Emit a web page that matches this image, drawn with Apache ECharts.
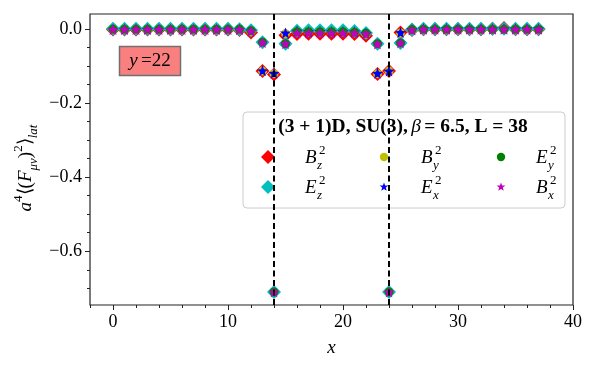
<!DOCTYPE html>
<html>
<head>
<meta charset="utf-8">
<script src="https://cdn.jsdelivr.net/npm/echarts@6/dist/echarts.min.js"></script>
<style>
  html, body { margin: 0; padding: 0; background: #fff; }
  #chart { width: 600px; height: 370px; }
</style>
</head>
<body>
<div id="chart"></div>
<script>
// lattice sites along x (y = 22 slice)
const xs = [0, 1, 2, 3, 4, 5, 6, 7, 8, 9, 10, 11, 12, 13, 14, 15, 16, 17, 18,
  19, 20, 21, 22, 23, 24, 25, 26, 27, 28, 29, 30, 31, 32, 33, 34, 35, 36, 37];

// field components
const Bz = [-0.002, -0.002, -0.002, -0.002, -0.002, -0.002, -0.002, -0.002, -0.002, -0.002, -0.002,
  -0.003, -0.010, -0.114, -0.123, -0.017, -0.014, -0.013, -0.013, -0.013, -0.013, -0.014, -0.019,
  -0.122, -0.114, -0.010, -0.003,
  -0.001, -0.001, -0.001, -0.001, -0.001, -0.001, 0.000, 0.002, -0.001, -0.001, -0.001];
const Ez = [0.000, 0.000, 0.000, 0.000, 0.000, 0.000, 0.000, 0.000, 0.000, 0.000, 0.000,
  -0.001, -0.004, -0.036, -0.710, -0.040, -0.005, -0.004, -0.004, -0.004, -0.004, -0.006, -0.011,
  -0.040, -0.710, -0.038, -0.002,
  0.000, 0.000, 0.000, 0.000, 0.000, 0.000, 0.000, 0.000, 0.000, 0.000, 0.000];
const By = [-0.001, -0.001, -0.001, -0.001, -0.001, -0.001, -0.001, -0.001, -0.001, -0.001, -0.001,
  -0.002, -0.007, -0.114, -0.121, -0.013, -0.008, -0.008, -0.008, -0.008, -0.008, -0.009, -0.014,
  -0.121, -0.114, -0.011, -0.002,
  -0.001, -0.001, -0.001, -0.001, -0.001, -0.001, -0.001, -0.001, -0.001, -0.001, -0.001];
const Ex = [-0.001, -0.001, -0.001, -0.001, -0.001, -0.001, -0.001, -0.001, -0.001, -0.001, -0.001,
  -0.001, -0.006, -0.113, -0.120, -0.011, -0.006, -0.007, -0.007, -0.007, -0.007, -0.008, -0.012,
  -0.120, -0.114, -0.010, -0.002,
  0.000, 0.000, 0.000, 0.000, 0.000, 0.000, 0.000, 0.000, 0.000, 0.000, 0.000];
const Ey = [-0.001, -0.001, -0.001, -0.001, -0.001, -0.001, -0.001, -0.001, -0.001, -0.001, -0.001,
  -0.001, -0.005, -0.036, -0.710, -0.040, -0.008, -0.008, -0.008, -0.008, -0.008, -0.009, -0.012,
  -0.040, -0.710, -0.038, -0.002,
  -0.001, -0.001, -0.001, -0.001, -0.001, -0.001, -0.001, -0.001, -0.001, -0.001, -0.001];
const Bx = [-0.001, -0.001, -0.001, -0.001, -0.001, -0.001, -0.001, -0.001, -0.001, -0.001, -0.001,
  -0.002, -0.006, -0.037, -0.710, -0.040, -0.011, -0.011, -0.011, -0.011, -0.011, -0.011, -0.014,
  -0.041, -0.710, -0.038, -0.003,
  -0.001, -0.001, -0.001, -0.001, -0.001, -0.001, -0.001, -0.001, -0.001, -0.001, -0.001];

// plate positions (dashed lines)
const plates = [14, 24];

const xMajor = [0, 10, 20, 30, 40];
const yMajor = [-0.6, -0.4, -0.2, 0.0];
const yMinor = [-0.7, -0.65, -0.55, -0.5, -0.45, -0.35, -0.3, -0.25, -0.15, -0.1, -0.05];

const FONT = 'Liberation Serif';

// 5 pointed star like matplotlib '*'
function starPts(cx, cy, r) {
  const pts = [];
  for (let k = 0; k < 10; k++) {
    const a = -Math.PI / 2 + k * Math.PI / 5;
    const rr = k % 2 === 0 ? r : r * 0.42;
    pts.push([cx + rr * Math.cos(a), cy + rr * Math.sin(a)]);
  }
  return pts;
}
const starPath = 'path://M' + starPts(10, 10, 10).map(p => p[0].toFixed(2) + ' ' + p[1].toFixed(2)).join(' L') + ' Z';

const comps = [
  { key: 'Bz', vals: Bz, color: '#ff0000', symbol: 'diamond', size: 14, base: 'B', sub: 'z' },
  { key: 'Ez', vals: Ez, color: '#00bfbf', symbol: 'diamond', size: 14, base: 'E', sub: 'z' },
  { key: 'By', vals: By, color: '#bfbf00', symbol: 'circle', size: 9, base: 'B', sub: 'y' },
  { key: 'Ex', vals: Ex, color: '#0000ff', symbol: starPath, size: 11, base: 'E', sub: 'x' },
  { key: 'Ey', vals: Ey, color: '#008000', symbol: 'circle', size: 9, base: 'E', sub: 'y' },
  { key: 'Bx', vals: Bx, color: '#bf00bf', symbol: starPath, size: 11, base: 'B', sub: 'x' },
];

const series = comps.map((c, i) => ({
  name: c.key,
  type: 'scatter',
  xAxisIndex: 0,
  yAxisIndex: 0,
  symbol: c.symbol,
  symbolSize: c.size,
  z: 2 + i,
  itemStyle: { color: c.color, opacity: 1 },
  data: xs.map((x, j) => [x, c.vals[j]]),
}));

series.push({
  type: 'scatter',
  data: [],
  markLine: {
    silent: true,
    symbol: 'none',
    z: 20,
    label: { show: false },
    lineStyle: { color: '#000', type: [6, 3.5], width: 2 },
    data: plates.map(p => ({ xAxis: p })),
  },
});

// legend drawn by hand to get matplotlib's 3 column layout
const legendCols = [268, 384, 501];
const legendLabelX = [305, 421, 536];
const legendRows = [157, 187];
// column major order, like matplotlib ncol=3
const legendSlots = [[0, 0], [0, 1], [1, 0], [1, 1], [2, 0], [2, 1]];

function legendMarker(c, cx, cy) {
  if (c.symbol === 'diamond') {
    const h = 7;
    return { type: 'polygon', shape: { points: [[cx, cy - h], [cx + h, cy], [cx, cy + h], [cx - h, cy]] }, style: { fill: c.color } };
  }
  if (c.symbol === 'circle') {
    return { type: 'circle', shape: { cx: cx, cy: cy, r: 4.2 }, style: { fill: c.color } };
  }
  return { type: 'polygon', shape: { points: starPts(cx, cy, 4.6) }, style: { fill: c.color } };
}

const legendEls = [];
comps.forEach((c, i) => {
  const col = legendSlots[i][0], row = legendSlots[i][1];
  const cy = legendRows[row];
  legendEls.push(legendMarker(c, legendCols[col], cy));
  const lx = legendLabelX[col];
  legendEls.push({ type: 'text', x: lx, y: cy + 1, style: { text: c.base, font: 'italic 19px ' + FONT, fill: '#000', verticalAlign: 'middle' } });
  legendEls.push({ type: 'text', x: lx + 14, y: cy - 6, style: { text: '2', font: '13px ' + FONT, fill: '#000', verticalAlign: 'middle' } });
  legendEls.push({ type: 'text', x: lx + 12, y: cy + 9, style: { text: c.sub, font: 'italic 13px ' + FONT, fill: '#000', verticalAlign: 'middle' } });
});

const chart = echarts.init(document.getElementById('chart'));
chart.setOption({
  animation: false,
  backgroundColor: '#fff',
  grid: { left: 90, right: 27, top: 14, bottom: 65, show: true, borderColor: '#222', borderWidth: 1.2, backgroundColor: 'transparent' },
  xAxis: [
    {
      type: 'value', min: -2, max: 40,
      axisLine: { show: false, onZero: false },
      splitLine: { show: false },
      axisTick: { show: true, customValues: xMajor, length: 5, lineStyle: { color: '#222' } },
      axisLabel: { customValues: xMajor, color: '#000', fontFamily: FONT, fontSize: 18, margin: 8 },
      name: 'x',
      nameLocation: 'middle',
      nameGap: 33,
      nameTextStyle: { fontFamily: FONT, fontStyle: 'italic', fontSize: 19, color: '#000' },
    },
    {
      type: 'value', min: -2, max: 40, interval: 2, position: 'bottom',
      axisLine: { show: false, onZero: false }, splitLine: { show: false }, axisLabel: { show: false },
      axisTick: { show: true, length: 3, lineStyle: { color: '#222' } },
    },
  ],
  yAxis: [
    {
      type: 'value', min: -0.745, max: 0.04,
      axisLine: { show: false, onZero: false },
      splitLine: { show: false },
      axisTick: { show: true, customValues: yMajor, length: 5, lineStyle: { color: '#222' } },
      axisLabel: {
        customValues: yMajor, color: '#000', fontFamily: FONT, fontSize: 18, margin: 8,
        formatter: v => (v < 0 ? '\u2212' : '') + Math.abs(v).toFixed(1),
      },
    },
    {
      type: 'value', min: -0.745, max: 0.04, position: 'left',
      axisLine: { show: false, onZero: false }, splitLine: { show: false }, axisLabel: { show: false },
      axisTick: { show: true, customValues: yMinor, length: 3, lineStyle: { color: '#222' } },
    },
  ],
  series: series,
  graphic: [
    // y axis title
    {
      type: 'text', x: 26, y: 168, rotation: Math.PI / 2,
      style: {
        text: '{i|a}{s|4}{n|\u27E8(}{i|F}{b|\u03BC\u03BD}{n|)}{s|2}{n|\u27E9}{b|lat}',
        align: 'center', verticalAlign: 'middle', fill: '#000',
        rich: {
          i: { fontFamily: FONT, fontStyle: 'italic', fontSize: 19, lineHeight: 28, verticalAlign: 'middle' },
          n: { fontFamily: FONT, fontSize: 19, lineHeight: 28, verticalAlign: 'middle' },
          s: { fontFamily: FONT, fontSize: 13, verticalAlign: 'top' },
          b: { fontFamily: FONT, fontStyle: 'italic', fontSize: 13, verticalAlign: 'bottom' },
        },
      },
    },
    // y = 22 box
    {
      type: 'rect', shape: { x: 119.5, y: 46.5, width: 61, height: 29 },
      style: { fill: '#fa8080', stroke: '#707070', lineWidth: 1.5 }, z: 30,
    },
    {
      type: 'text', x: 150, y: 61, z: 31,
      style: {
        text: '{i|y} {n|=22}', align: 'center', verticalAlign: 'middle',
        rich: {
          i: { fontFamily: FONT, fontStyle: 'italic', fontSize: 19, fill: '#000' },
          n: { fontFamily: FONT, fontSize: 19, fill: '#000' },
        },
      },
    },
    // legend box
    {
      type: 'group', z: 40,
      children: [
        {
          type: 'rect', shape: { x: 243, y: 112, width: 322, height: 96, r: 4 },
          style: { fill: 'rgba(255,255,255,0.8)', stroke: '#cccccc', lineWidth: 1 },
        },
        {
          type: 'text', x: 403, y: 127,
          style: {
            text: '{b|(3 + 1)D, SU(3),} {g|\u03B2} {b|= 6.5, L = 38}',
            align: 'center', verticalAlign: 'middle',
            rich: {
              b: { fontFamily: FONT, fontWeight: 'bold', fontSize: 19.5, fill: '#000' },
              g: { fontFamily: FONT, fontStyle: 'italic', fontSize: 19.5, fill: '#000' },
            },
          },
        },
      ].concat(legendEls),
    },
  ],
});
</script>
</body>
</html>
